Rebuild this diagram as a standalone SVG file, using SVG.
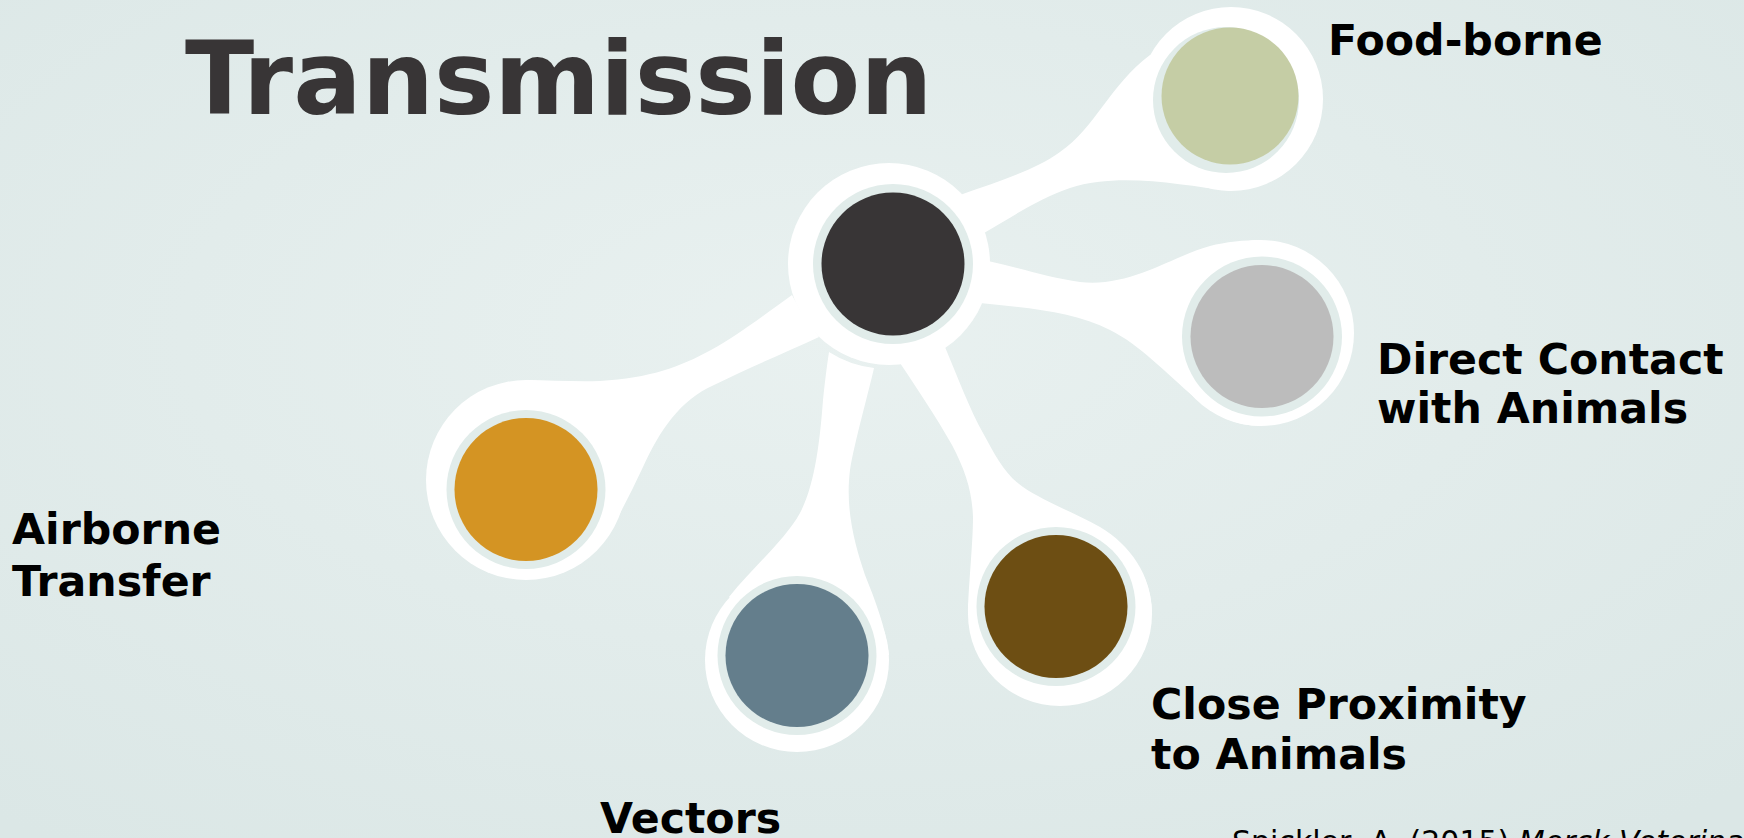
<svg xmlns="http://www.w3.org/2000/svg" width="1744" height="838" viewBox="0 0 1744 838">
<defs>
<radialGradient id="bg" cx="0.48" cy="0.4" r="0.75">
<stop offset="0" stop-color="#e9f1f0"/>
<stop offset="1" stop-color="#dbe7e6"/>
</radialGradient>
<style>
.stem{fill:#ffffff}
.halo{fill:#ffffff}
.ring{fill:#e1ecea}
.lbl{font-family:"DejaVu Sans","Liberation Sans",sans-serif;font-weight:bold;font-size:42.7px;fill:#000000}
.title{font-family:"DejaVu Sans","Liberation Sans",sans-serif;font-weight:bold;font-size:101.5px;fill:#383536}
.cite{font-family:"DejaVu Sans","Liberation Sans",sans-serif;font-size:30px;fill:#000000}
</style>
</defs>
<rect x="0" y="0" width="1744" height="838" fill="url(#bg)"/>
<text class="title" x="185" y="114">Transmission</text>

<g id="connectors">
<path class="stem" d="M 950 205 L 960 195 C 1000 181, 1035 170, 1060 152 C 1095 128, 1110 85, 1150 55 L 1231 99 L 1231 191 C 1180 185, 1120 172, 1070 188 C 1040 198, 1010 218, 984 233 Z"/>
<path class="stem" d="M 970 280 L 988 261 C 1020 268, 1050 278, 1080 282 C 1130 288, 1175 255, 1210 246 C 1225 242, 1245 240, 1261 240 L 1261 333 L 1261 426 C 1235 426, 1215 415, 1195 398 C 1165 372, 1140 345, 1110 330 C 1075 312, 1030 308, 980 303 Z"/>
<path class="stem" d="M 800 310 L 792 295 C 760 318, 735 337, 711 350 C 680 367, 650 378, 600 381 C 575 382, 550 380, 526 380 L 526 480 L 593 553 C 610 535, 625 505, 643 467 C 660 430, 680 400, 714 385 C 750 367, 785 353, 819 337 Z"/>
<path class="stem" d="M 829 352 A 106 106 0 0 0 874 368 C 868 395, 855 440, 850 470 C 845 510, 855 545, 865 575 C 875 600, 885 625, 889 655 L 797 660 L 729 597 C 755 565, 785 540, 800 513 C 815 485, 820 440, 823 400 C 825 380, 827 365, 829 352 Z"/>
<path class="stem" d="M 945 347 C 958 378, 970 410, 983 433 C 995 455, 1005 475, 1023 487 C 1045 502, 1075 513, 1100 527 C 1130 545, 1152 575, 1152 614 L 1060 614 L 968 614 C 968 590, 973 545, 973 517 C 972 490, 965 470, 952 445 C 935 415, 918 390, 900 363 Z"/>
</g>

<g id="node-center">
<circle class="halo" cx="889" cy="264" r="101"/>
<circle class="ring" cx="893" cy="264" r="80"/>
<circle cx="893" cy="264" r="71.5" fill="#383536"/>
</g>

<g id="node-foodborne">
<circle class="halo" cx="1231" cy="99" r="92"/>
<circle class="ring" cx="1226" cy="100" r="73"/>
<circle cx="1230" cy="96" r="68.5" fill="#c5cda5"/>
<text class="lbl" x="1328" y="55">Food-borne</text>
</g>

<g id="node-direct">
<circle class="halo" cx="1261" cy="333" r="93"/>
<circle class="ring" cx="1262" cy="336.5" r="80"/>
<circle cx="1262" cy="336.5" r="71.5" fill="#bcbcbc"/>
<text class="lbl" x="1377" y="374">Direct Contact</text>
<text class="lbl" x="1377" y="423">with Animals</text>
</g>

<g id="node-airborne">
<circle class="halo" cx="526" cy="480" r="100"/>
<circle class="ring" cx="526" cy="489.5" r="79.5"/>
<circle cx="526" cy="489.5" r="71.5" fill="#d49423"/>
<text class="lbl" x="12" y="544">Airborne</text>
<text class="lbl" x="12" y="596">Transfer</text>
</g>

<g id="node-vectors">
<circle class="halo" cx="797" cy="660" r="92"/>
<circle class="ring" cx="797" cy="655.5" r="79.5"/>
<circle cx="797" cy="655.5" r="71.5" fill="#647e8c"/>
<text class="lbl" x="600" y="833">Vectors</text>
</g>

<g id="node-close">
<circle class="halo" cx="1060" cy="614" r="92"/>
<circle class="ring" cx="1056" cy="606.5" r="79.5"/>
<circle cx="1056" cy="606.5" r="71.5" fill="#6d4e13"/>
<text class="lbl" x="1151" y="719">Close Proximity</text>
<text class="lbl" x="1151" y="769">to Animals</text>
</g>

<text class="cite" x="1232" y="852">Spickler, A. (2015) <tspan font-style="italic">Merck Veterinary Manual</tspan></text>
</svg>
